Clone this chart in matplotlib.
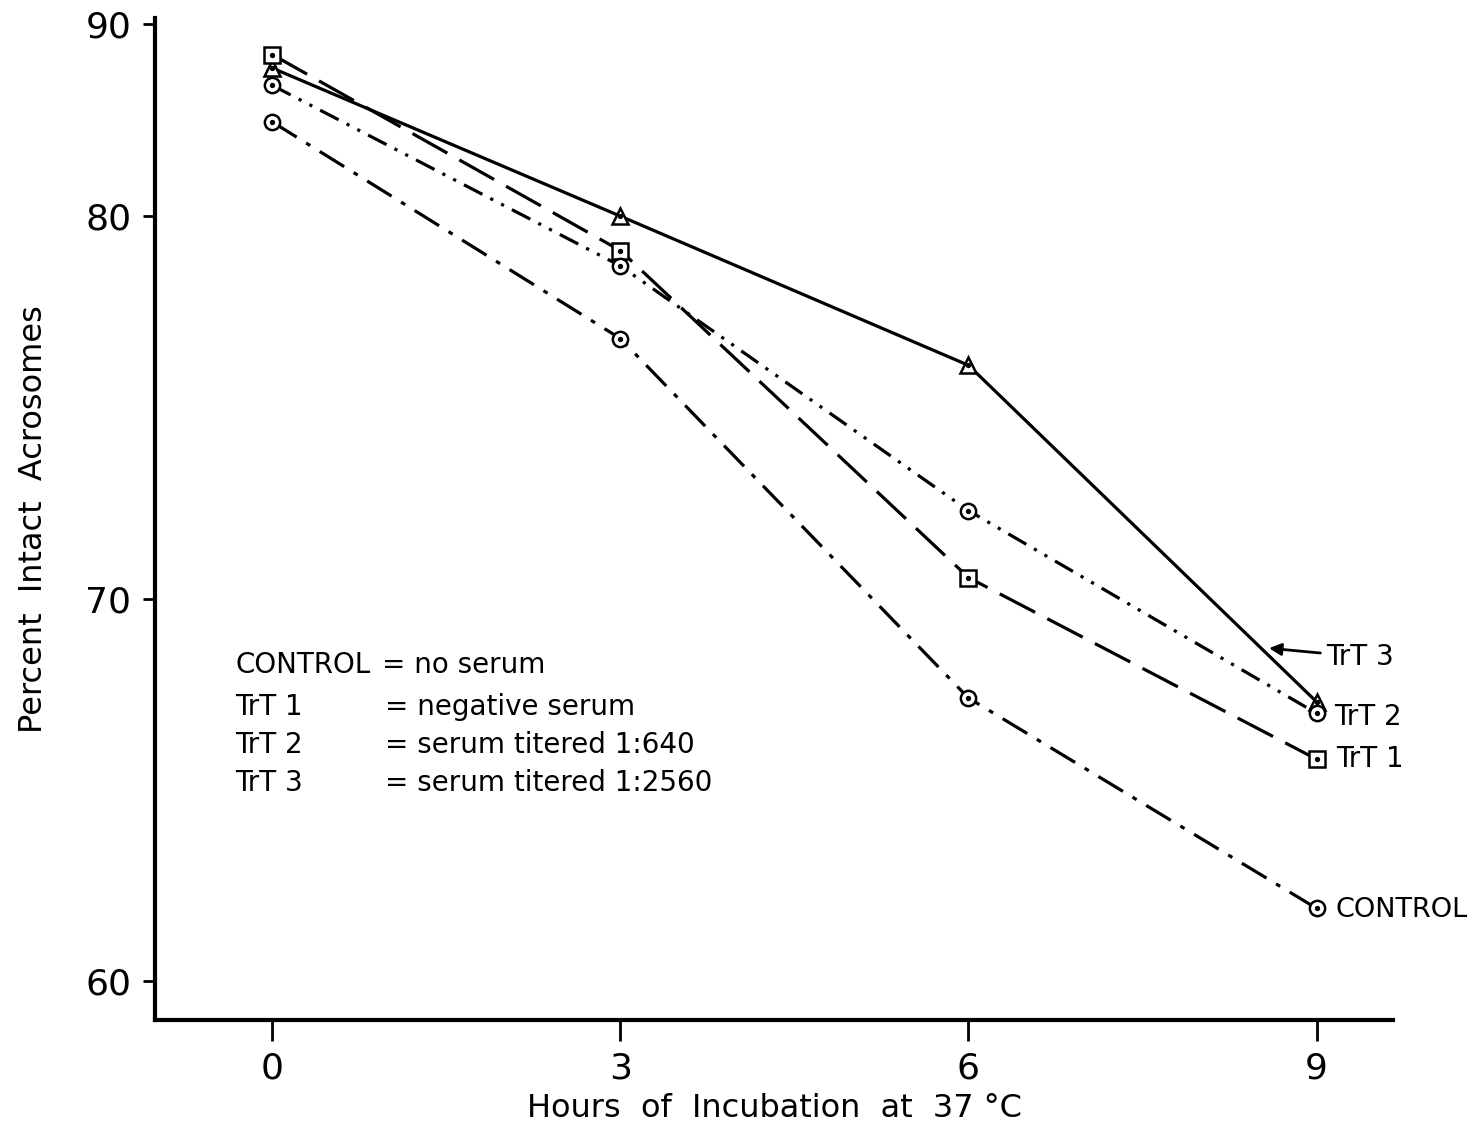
import matplotlib
matplotlib.use("Agg")
import matplotlib.pyplot as plt
import numpy as np

# data
hours = [0, 3, 6, 9]
control = [84.9, 76.8, 67.4, 61.9]
trt1 = [88.4, 79.1, 70.55, 65.8]
trt2 = [86.8, 78.7, 72.3, 67.0]
trt3 = [87.7, 80.0, 76.1, 67.3]

y_ticks = [60, 70, 80, 90]
x_ticks = [0, 3, 6, 9]
legend_names = ["CONTROL", "TrT 1", "TrT 2", "TrT 3"]
legend_desc = ["= no serum", "= negative serum", "= serum titered 1:640", "= serum titered 1:2560"]

plt.rcParams['font.family'] = ['DejaVu Sans']

# the original axis is squeezed above 80 (80-90 drawn at half scale)
def fwd(y):
    y = np.asarray(y, dtype=float)
    return np.where(y > 80, 80 + (y - 80) * 0.503, y)

def inv(y):
    y = np.asarray(y, dtype=float)
    return np.where(y > 80, 80 + (y - 80) / 0.503, y)

fig = plt.figure(figsize=(14.81, 11.36), dpi=100)
ax = fig.add_axes([0.1047, 0.1021, 0.836, 0.882])
ax.set_yscale('function', functions=(fwd, inv))

lw = 2.3
series = [
    (trt3, '^', (None, None), '-'),
    (trt1, 's', (12.5, 4.3), '--'),
    (trt2, 'o', (6.5, 2.8, 1, 2.8, 1, 2.8), '--'),
    (control, 'o', (9, 3.5, 1.5, 3.5), '--'),
]
for vals, m, dash, ls in series:
    line, = ax.plot(hours, vals, ls, color='k', lw=lw, marker=m, ms=11,
                    mfc='white', mec='k', mew=1.8, zorder=3)
    if dash[0] is not None:
        line.set_dashes(dash)
    ax.plot(hours, vals, ls='none', marker='o', ms=2.8, color='k', zorder=4)

ax.set_xlim(-1.01, 9.66)
ax.set_ylim(58.98, inv(85.18))
ax.set_xticks(x_ticks)
ax.set_yticks(y_ticks)
ax.tick_params(axis='y', direction='out', length=9, width=2, labelsize=26, pad=8)
ax.tick_params(axis='x', direction='out', length=15, width=2, labelsize=26, pad=8)
for s in ['top', 'right']:
    ax.spines[s].set_visible(False)
for s in ['left', 'bottom']:
    ax.spines[s].set_linewidth(3)

ax.set_ylabel("Percent  Intact  Acrosomes", fontsize=23, labelpad=26)
ax.set_xlabel("Hours  of  Incubation  at  37 °C", fontsize=23, labelpad=5)

# end-of-line labels
ax.annotate("TrT 3", xy=(8.59, np.interp(8.59, hours, trt3) + 0.2), xytext=(9.08, 68.48),
            fontsize=20, va='center', ha='left',
            arrowprops=dict(arrowstyle='-|>', color='k', lw=2, mutation_scale=18,
                            shrinkA=2, shrinkB=0))
ax.text(9.15, 66.9, "TrT 2", fontsize=20, va='center', ha='left')
ax.text(9.17, 65.8, "TrT 1", fontsize=20, va='center', ha='left')
ax.text(9.16, 61.86, "CONTROL", fontsize=19.5, va='center', ha='left')

# key block
rows_y = [0.354, 0.312, 0.274, 0.237]
for i, (nm, d) in enumerate(zip(legend_names, legend_desc)):
    ax.text(0.065, rows_y[i], nm, transform=ax.transAxes, fontsize=20, va='center', ha='left')
    xd = 0.183 if i == 0 else 0.186
    ax.text(xd, rows_y[i], d, transform=ax.transAxes, fontsize=20, va='center', ha='left')

fig.savefig("out.png", dpi=100)
